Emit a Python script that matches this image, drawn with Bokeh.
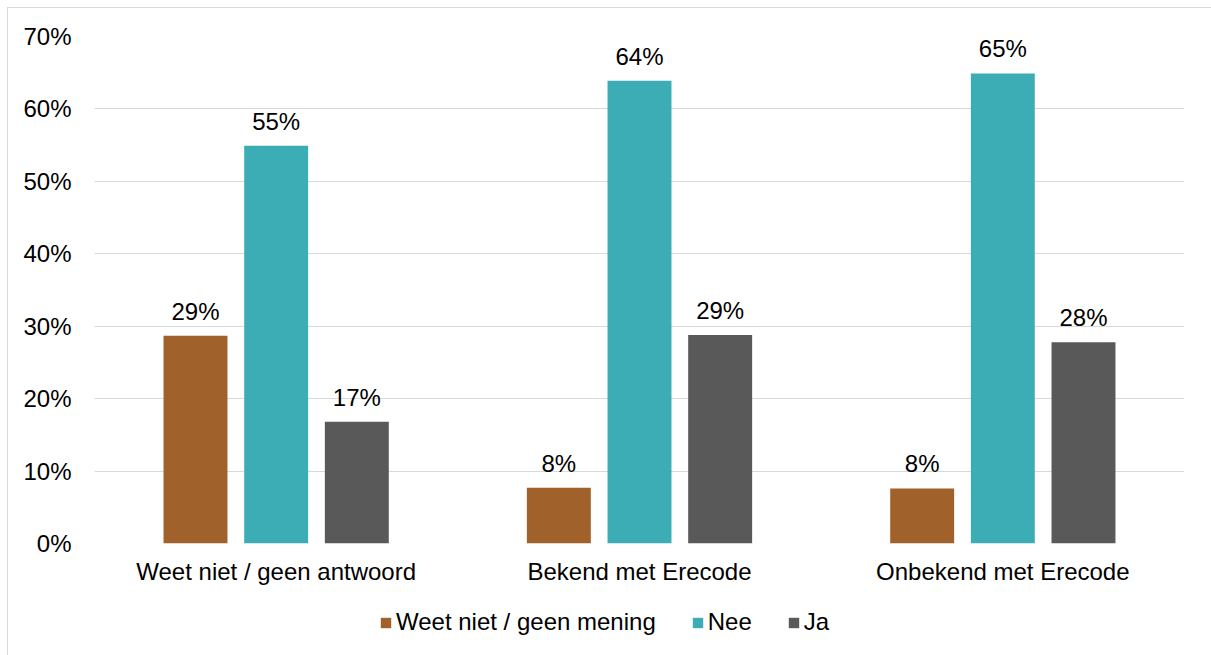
from bokeh.plotting import figure
from bokeh.layouts import column
from bokeh.models import (ColumnDataSource, FactorRange, NumeralTickFormatter, LabelSet,
                          Legend, LegendItem, FixedTicker, Range1d)
from bokeh.core.properties import value
from bokeh.transform import dodge
from bokeh.embed import file_html
from bokeh.resources import INLINE

categories = ["Weet niet / geen antwoord", "Bekend met Erecode", "Onbekend met Erecode"]
series_names = ["Weet niet / geen mening", "Nee", "Ja"]
weet_niet = [0.287, 0.077, 0.076]
nee = [0.549, 0.639, 0.649]
ja = [0.168, 0.288, 0.278]
colors = ["#A0612B", "#3DADB5", "#595959"]
y_ticks = [0.0, 0.1, 0.2, 0.3, 0.4, 0.5, 0.6, 0.7]

FONT = "Liberation Sans"
FS = "24px"

xr = FactorRange(*categories, range_padding=0)
p = figure(x_range=xr, y_range=(0, 0.7),
           width=1204, height=584, output_backend="svg", toolbar_location=None,
           min_border_left=86, min_border_top=28, min_border_right=28, min_border_bottom=49)
p.outline_line_color = None
p.background_fill_color = "white"
p.border_fill_color = "white"

# legend strip below the chart
p2 = figure(x_range=xr, y_range=Range1d(5, 6), width=1204, height=63,
            output_backend="svg", toolbar_location=None,
            min_border_left=0, min_border_top=0, min_border_right=0, min_border_bottom=0)
p2.axis.visible = False
p2.grid.grid_line_color = None
p2.outline_line_color = None
p2.background_fill_color = "white"
p2.border_fill_color = "white"

offsets = [-0.222, 0.0, 0.222]
renderers = []
for name, vals, col, off in zip(series_names, [weet_niet, nee, ja], colors, offsets):
    src = ColumnDataSource(dict(cat=categories, val=vals,
                                lab=[f"{round(v * 100)}%" for v in vals]))
    p.vbar(x=dodge("cat", off, range=xr), top="val", width=0.176, source=src,
           fill_color=col, line_color=None)
    r2 = p2.vbar(x=dodge("cat", off, range=xr), top="val", width=0.176, source=src,
                 fill_color=col, line_color=None)
    renderers.append(r2)
    lbl = LabelSet(x=dodge("cat", off, range=xr), y="val", text="lab", source=src,
                   text_align="center", text_baseline="alphabetic", y_offset=16,
                   text_font=value(FONT), text_font_size=value(FS), text_color="#000000")
    p.add_layout(lbl)

p.yaxis.ticker = FixedTicker(ticks=y_ticks)
p.yaxis.formatter = NumeralTickFormatter(format="0%")
p.yaxis.axis_line_color = None
p.yaxis.major_tick_line_color = None
p.yaxis.minor_tick_line_color = None
p.yaxis.major_label_text_font = FONT
p.yaxis.major_label_text_font_size = FS
p.yaxis.major_label_text_color = "#000000"
p.yaxis.major_label_standoff = 17

p.xaxis.axis_line_color = None
p.xaxis.major_tick_line_color = None
p.xaxis.minor_tick_line_color = None
p.xaxis.major_label_text_font = FONT
p.xaxis.major_label_text_font_size = FS
p.xaxis.major_label_text_color = "#000000"
p.xaxis.major_label_standoff = 8

p.xgrid.grid_line_color = None
p.ygrid.grid_line_color = "#d9d9d9"
p.ygrid.grid_line_width = 1

legend = Legend(items=[LegendItem(label=n, renderers=[r]) for n, r in zip(series_names, renderers)],
                orientation="horizontal", location=(285, 19),
                glyph_width=13, glyph_height=13, label_standoff=4, spacing=35,
                padding=0, margin=0, border_line_color=None, background_fill_alpha=0,
                label_text_font=FONT, label_text_font_size=FS, label_text_color="#000000")
p2.add_layout(legend, "center")

layout = column(p, p2, spacing=0)
layout.styles = {"margin-left": "7px", "margin-top": "7px",
                 "border-left": "1px solid #d9d9d9", "border-top": "1px solid #d9d9d9"}

open("out.html", "w").write(file_html(layout, INLINE))
